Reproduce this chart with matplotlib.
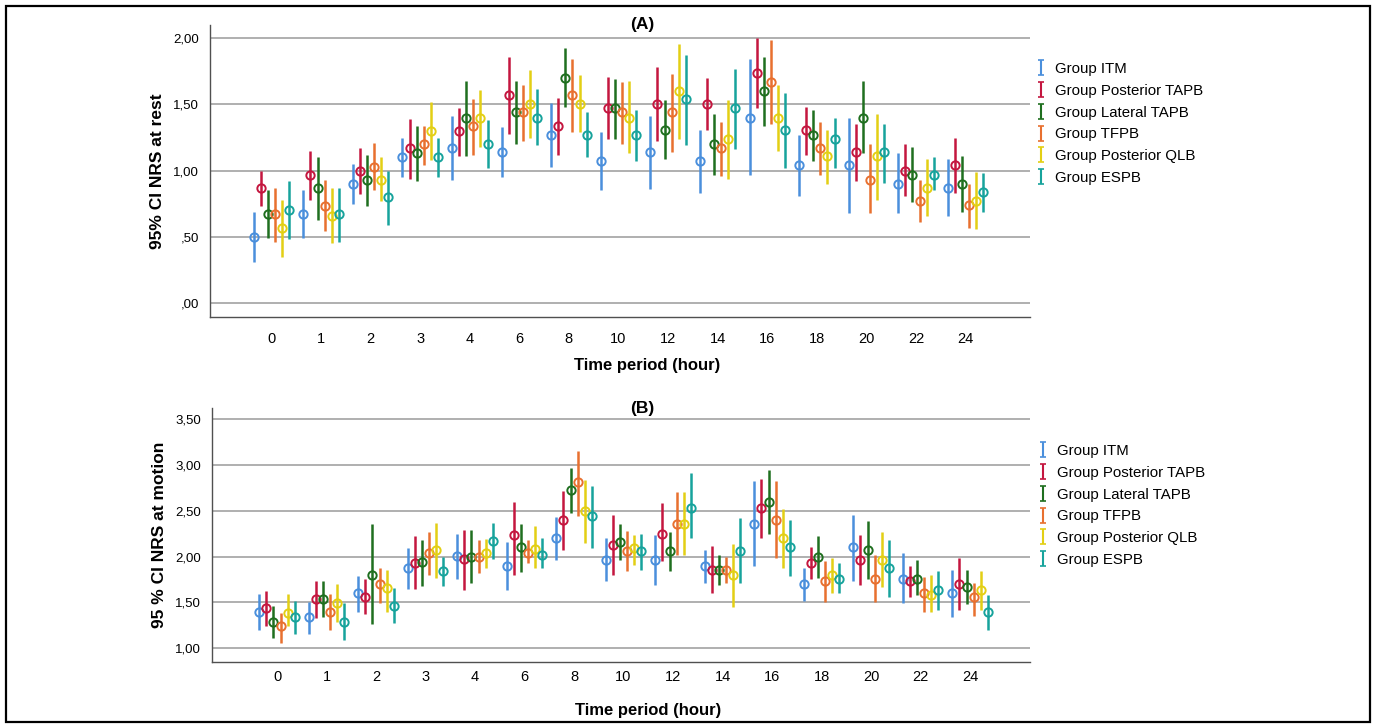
import numpy as np
import matplotlib
matplotlib.use('Agg')
import matplotlib.pyplot as plt
from matplotlib.patches import Rectangle

plt.rcParams['font.family'] = ['Liberation Sans', 'DejaVu Sans']

## DATA
time_labels = ['0', '1', '2', '3', '4', '6', '8', '10', '12', '14', '16', '18', '20', '22', '24']
groups = ['Group ITM', 'Group Posterior TAPB', 'Group Lateral TAPB',
          'Group TFPB', 'Group Posterior QLB', 'Group ESPB']
colors = ['#4a8fdc', '#c4163f', '#1f6f1f', '#e8702f', '#e3cf14', '#17a39c']

# (A) NRS at rest: mean, lower and upper 95% CI, one row per group
rest_mean = [
    [0.50, 0.67, 0.90, 1.10, 1.17, 1.14, 1.27, 1.07, 1.14, 1.07, 1.40, 1.04, 1.04, 0.90, 0.87],
    [0.87, 0.97, 1.00, 1.17, 1.30, 1.57, 1.34, 1.47, 1.50, 1.50, 1.74, 1.31, 1.14, 1.00, 1.04],
    [0.67, 0.87, 0.93, 1.13, 1.40, 1.44, 1.70, 1.47, 1.31, 1.20, 1.60, 1.27, 1.40, 0.97, 0.90],
    [0.67, 0.73, 1.03, 1.20, 1.34, 1.44, 1.57, 1.44, 1.44, 1.17, 1.67, 1.17, 0.93, 0.77, 0.74],
    [0.57, 0.66, 0.93, 1.30, 1.40, 1.50, 1.50, 1.40, 1.60, 1.24, 1.40, 1.11, 1.11, 0.87, 0.77],
    [0.70, 0.67, 0.80, 1.10, 1.20, 1.40, 1.27, 1.27, 1.54, 1.47, 1.31, 1.24, 1.14, 0.97, 0.84],
]
rest_lo = [
    [0.31, 0.49, 0.75, 0.95, 0.93, 0.95, 1.03, 0.85, 0.86, 0.83, 0.97, 0.81, 0.68, 0.68, 0.66],
    [0.73, 0.78, 0.82, 0.94, 1.11, 1.28, 1.12, 1.24, 1.22, 1.31, 1.47, 1.12, 0.92, 0.81, 0.83],
    [0.49, 0.63, 0.73, 0.92, 1.11, 1.20, 1.48, 1.24, 1.09, 0.97, 1.34, 1.07, 1.13, 0.76, 0.69],
    [0.46, 0.54, 0.85, 1.04, 1.12, 1.22, 1.29, 1.20, 1.14, 0.96, 1.35, 0.97, 0.68, 0.61, 0.57],
    [0.35, 0.45, 0.77, 1.08, 1.18, 1.25, 1.29, 1.13, 1.24, 0.94, 1.15, 0.90, 0.78, 0.66, 0.56],
    [0.48, 0.46, 0.59, 0.95, 1.02, 1.19, 1.10, 1.07, 1.19, 1.16, 1.02, 1.02, 0.91, 0.85, 0.69],
]
rest_hi = [
    [0.69, 0.85, 1.05, 1.25, 1.41, 1.33, 1.51, 1.29, 1.41, 1.31, 1.84, 1.27, 1.40, 1.13, 1.09],
    [1.00, 1.15, 1.17, 1.39, 1.47, 1.86, 1.55, 1.71, 1.78, 1.70, 2.00, 1.48, 1.35, 1.20, 1.25],
    [0.85, 1.10, 1.12, 1.34, 1.68, 1.68, 1.93, 1.69, 1.53, 1.43, 1.86, 1.46, 1.68, 1.18, 1.11],
    [0.87, 0.93, 1.21, 1.34, 1.54, 1.65, 1.84, 1.67, 1.73, 1.37, 1.99, 1.37, 1.20, 0.93, 0.90],
    [0.78, 0.87, 1.10, 1.52, 1.61, 1.76, 1.72, 1.68, 1.96, 1.53, 1.65, 1.31, 1.43, 1.09, 0.99],
    [0.92, 0.87, 1.00, 1.25, 1.38, 1.62, 1.44, 1.46, 1.87, 1.77, 1.59, 1.40, 1.35, 1.10, 0.98],
]

# (B) NRS at motion
motion_mean = [
    [1.40, 1.34, 1.60, 1.87, 2.01, 1.90, 2.20, 1.96, 1.96, 1.90, 2.36, 1.70, 2.10, 1.76, 1.60],
    [1.44, 1.54, 1.56, 1.93, 1.97, 2.23, 2.40, 2.13, 2.25, 1.85, 2.53, 1.93, 1.96, 1.73, 1.70],
    [1.29, 1.54, 1.80, 1.94, 2.00, 2.10, 2.73, 2.16, 2.06, 1.85, 2.60, 2.00, 2.07, 1.76, 1.67],
    [1.24, 1.40, 1.70, 2.04, 2.00, 2.04, 2.81, 2.06, 2.36, 1.85, 2.40, 1.73, 1.76, 1.60, 1.56],
    [1.38, 1.49, 1.66, 2.07, 2.04, 2.08, 2.50, 2.09, 2.36, 1.80, 2.20, 1.80, 1.96, 1.58, 1.64],
    [1.34, 1.29, 1.46, 1.84, 2.17, 2.02, 2.44, 2.06, 2.53, 2.06, 2.10, 1.76, 1.87, 1.64, 1.40],
]
motion_lo = [
    [1.20, 1.15, 1.40, 1.65, 1.75, 1.63, 1.96, 1.73, 1.69, 1.71, 1.90, 1.51, 1.73, 1.49, 1.34],
    [1.24, 1.33, 1.37, 1.65, 1.64, 1.80, 2.07, 1.80, 1.95, 1.60, 2.20, 1.75, 1.69, 1.56, 1.42],
    [1.11, 1.34, 1.26, 1.68, 1.71, 1.83, 2.48, 1.96, 1.84, 1.69, 2.25, 1.77, 1.75, 1.58, 1.48],
    [1.06, 1.20, 1.49, 1.80, 1.82, 1.93, 2.44, 1.84, 2.02, 1.71, 1.98, 1.50, 1.50, 1.40, 1.35],
    [1.24, 1.29, 1.40, 1.77, 1.88, 1.87, 2.15, 1.91, 2.02, 1.45, 1.87, 1.60, 1.67, 1.40, 1.42],
    [1.15, 1.09, 1.27, 1.68, 1.97, 1.87, 2.09, 1.85, 2.20, 1.71, 1.79, 1.60, 1.56, 1.42, 1.20],
]
motion_hi = [
    [1.59, 1.50, 1.79, 2.09, 2.25, 2.16, 2.43, 2.20, 2.24, 2.07, 2.82, 1.87, 2.45, 2.04, 1.85],
    [1.62, 1.73, 1.75, 2.22, 2.29, 2.60, 2.72, 2.45, 2.58, 2.12, 2.85, 2.10, 2.24, 1.90, 1.98],
    [1.46, 1.73, 2.35, 2.18, 2.29, 2.36, 2.97, 2.36, 2.27, 2.02, 2.94, 2.22, 2.39, 1.96, 1.85],
    [1.38, 1.59, 1.88, 2.27, 2.18, 2.18, 3.15, 2.28, 2.70, 2.00, 2.82, 1.95, 2.02, 1.78, 1.71],
    [1.59, 1.70, 1.85, 2.37, 2.19, 2.33, 2.84, 2.24, 2.70, 2.14, 2.52, 1.98, 2.27, 1.80, 1.84],
    [1.51, 1.49, 1.66, 1.99, 2.37, 2.20, 2.77, 2.25, 2.91, 2.42, 2.40, 1.93, 2.18, 1.84, 1.58],
]


def SpssTick(v, pos=None):
    # SpssTick(): comma decimals, no leading zero (",50")
    s = f'{v:.2f}'.replace('.', ',')
    return s[1:] if s.startswith('0,') else s


def DrawPanel(ax, means, los, his, yticks, ylim, xlim, ylabel, xlab_y, tick_pad):
    # DrawPanel(): clustered 95% CI bars, one cluster per time period
    x = np.arange(len(time_labels))
    step = 0.143
    for g in range(len(groups)):
        xs = x + (g - 2.5) * step
        m = np.array(means[g])
        lo = m - np.array(los[g])
        hi = np.array(his[g]) - m
        ax.errorbar(xs, m, yerr=[lo, hi], fmt='o', color=colors[g], ecolor=colors[g],
                    elinewidth=1.8, capsize=0, ms=6, mfc='none', mec=colors[g], mew=1.4,
                    zorder=3)
        # legend proxy with small caps, like the SPSS I-beam
        ax.errorbar([np.nan], [np.nan], yerr=[[0.1], [0.1]], fmt='none', ecolor=colors[g],
                    elinewidth=1.5, capsize=2.5, capthick=1.2, label=groups[g])
    ax.set_xlim(*xlim)
    ax.set_ylim(*ylim)
    ax.set_xticks(x)
    ax.set_xticklabels(time_labels, fontsize=10.5)
    ax.set_yticks(yticks)
    ax.yaxis.set_major_formatter(plt.FuncFormatter(SpssTick))
    ax.tick_params(axis='y', labelsize=9.5, length=0, pad=8)
    ax.tick_params(axis='x', length=0, pad=tick_pad)
    ax.grid(axis='y', color='#a9a9a9', lw=1.3, zorder=0)
    ax.set_axisbelow(True)
    for side in ['top', 'right']:
        ax.spines[side].set_visible(False)
    for side in ['left', 'bottom']:
        ax.spines[side].set_color('#505050')
        ax.spines[side].set_linewidth(1.0)
    ax.set_ylabel(ylabel, fontsize=12.5, fontweight='bold')
    ax.yaxis.set_label_coords(-0.055, 0.5)
    ax.set_xlabel('Time period (hour)', fontsize=12, fontweight='bold')
    ax.xaxis.set_label_coords(0.533, xlab_y)
    ax.xaxis.label.set_va('center')


fig = plt.figure(figsize=(13.75, 7.25), dpi=100)
axA = fig.add_axes([210 / 1375, 1 - 317 / 725, 820 / 1375, 292 / 725])
axB = fig.add_axes([212 / 1375, 1 - 662 / 725, 818 / 1375, 254 / 725])

DrawPanel(axA, rest_mean, rest_lo, rest_hi, [0, 0.5, 1.0, 1.5, 2.0], (-0.106, 2.10),
          (-1.24, 15.3), '95% CI NRS at rest', -0.165, 11)
DrawPanel(axB, motion_mean, motion_lo, motion_hi, [1.0, 1.5, 2.0, 2.5, 3.0, 3.5],
          (0.85, 3.62), (-1.313, 15.21), '95 % CI NRS at motion', -0.19, 6)

for ax, top, left in [(axA, 62, 1036), (axB, 444, 1038)]:
    ax.legend(loc='upper left', bbox_to_anchor=(left / 1375, 1 - top / 725),
              bbox_transform=fig.transFigure, frameon=False, fontsize=10.8, handlelength=0.7,
              handletextpad=0.55, labelspacing=0.52, borderpad=0, borderaxespad=0)

fig.text(642 / 1375, 1 - 25 / 725, '(A)', ha='center', va='center', fontsize=12.5, fontweight='bold')
fig.text(642 / 1375, 1 - 408 / 725, '(B)', ha='center', va='center', fontsize=12.5, fontweight='bold')

# outer frame round the whole figure
fig.patches.append(Rectangle((6 / 1375, 3 / 725), 1364 / 1375, 716 / 725, transform=fig.transFigure,
                             fill=False, edgecolor='black', lw=1.6))

fig.savefig('out.png', dpi=100)
